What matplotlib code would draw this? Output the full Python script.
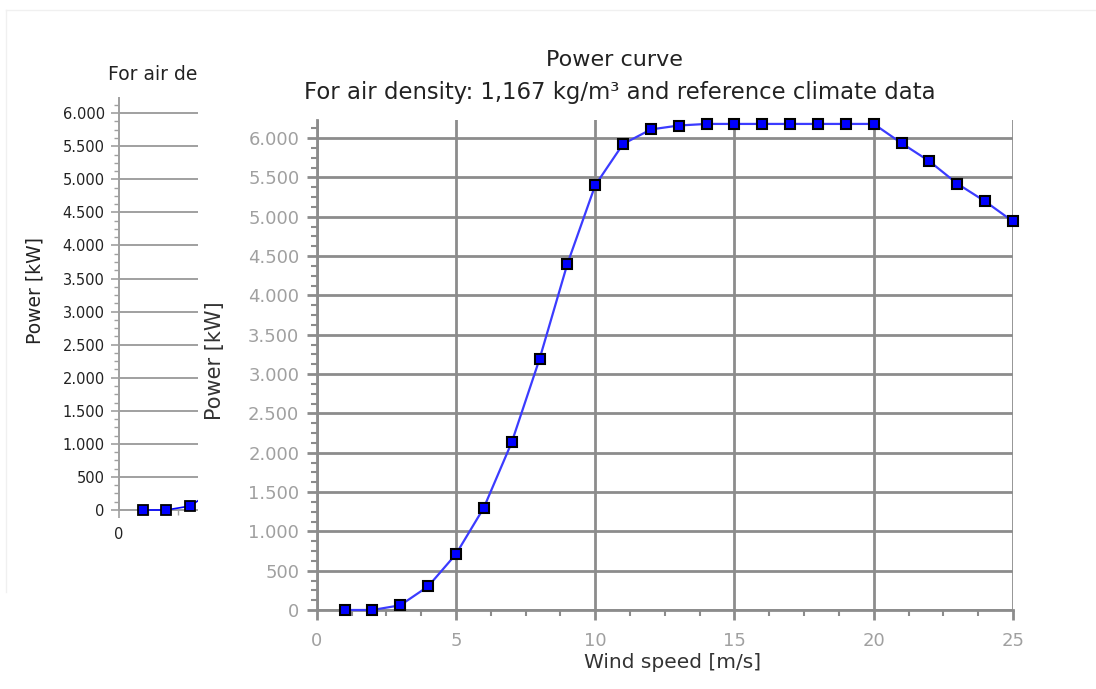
import matplotlib
matplotlib.use('Agg')
import matplotlib.pyplot as plt
from matplotlib.patches import Rectangle
from matplotlib.lines import Line2D
from matplotlib.ticker import FixedLocator, MultipleLocator, FuncFormatter

# power curve, 1 m/s steps
wind = list(range(1, 26))
power = [0, 0, 60, 300, 710, 1300, 2130, 3190, 4400, 5400, 5925, 6110, 6160,
         6180, 6180, 6180, 6180, 6180, 6180, 6180, 5935, 5705, 5420, 5195, 4940]
y_ticks = list(range(0, 6001, 500))
x_ticks = [0, 5, 10, 15, 20, 25]

title = 'Power curve'
subtitle = 'For air density: 1,167 kg/m³ and reference climate data'

W, H = 1096, 689


def px_box(x0, y0, x1, y1):
    # pixel box (origin top-left) -> figure fraction [left, bottom, w, h]
    return [x0 / W, 1 - y1 / H, (x1 - x0) / W, (y1 - y0) / H]


def fx(x):
    return x / W


def fy(y):
    return 1 - y / H


thousands = FuncFormatter(lambda v, pos: f'{int(round(v)):,}'.replace(',', '.'))

fig = plt.figure(figsize=(W / 100, H / 100), dpi=100)
fig.patch.set_facecolor('white')

# faint window frame of the chart behind
fig.add_artist(Line2D([fx(6), fx(6)], [fy(10), fy(592)], color='#f0f0f0', lw=1))
fig.add_artist(Line2D([fx(6), 1], [fy(10), fy(10)], color='#f0f0f0', lw=1))

# ---- chart in the back (mostly hidden) ----
grid_b = '#a0a0a0'
back = fig.add_axes(px_box(118.7, 98, 118.7 + 25 * 23.8, 510))
back.set_xlim(0, 25)
back.set_ylim(0, 6230)
back.plot(wind, power, color='blue', lw=1.2, marker='s', ms=6.5,
          mfc='blue', mec='black', mew=1.3, clip_on=False, zorder=3)
back.yaxis.set_major_locator(FixedLocator(y_ticks))
back.yaxis.set_major_formatter(thousands)
back.yaxis.set_minor_locator(MultipleLocator(125))
back.xaxis.set_major_locator(FixedLocator(x_ticks))
back.xaxis.set_minor_locator(MultipleLocator(1.25))
back.grid(axis='y', color=grid_b, lw=1.4)
for s in ['top', 'right']:
    back.spines[s].set_visible(False)
for s in ['left', 'bottom']:
    back.spines[s].set_color(grid_b)
    back.spines[s].set_linewidth(1.4)
back.tick_params(which='major', length=6, width=1.2, color=grid_b,
                 labelsize=10.5, labelcolor='#222222', pad=4)
back.tick_params(which='minor', length=3.5, width=1.0, color=grid_b)
back.tick_params(axis='x', which='major', pad=6)
# only the start of its subtitle shows past the front sheet
fig.text(fx(108), fy(75), 'For air density:', ha='left', va='center',
         fontsize=13.5, color='#222222', zorder=0.5)
fig.text(fx(35), fy(290), 'Power [kW]', ha='center', va='center',
         rotation=90, fontsize=13.5, color='#222222', zorder=0.5)

# white sheet of the front chart
fig.patches.append(Rectangle((fx(198), 0), 1 - fx(198), 1,
                             transform=fig.transFigure, facecolor='white',
                             edgecolor='none', zorder=1))

# ---- chart in front ----
grid_f = '#8c8c8c'
ax = fig.add_axes(px_box(316.7, 120, 1013, 610))
ax.set_zorder(2)
ax.set_xlim(0, 25)
ax.set_ylim(0, 6230)
ax.plot(wind, power, color='#3b3bff', lw=1.6, marker='s', ms=6.5,
        mfc='#0000ff', mec='black', mew=1.5, clip_on=False, zorder=3)
ax.yaxis.set_major_locator(FixedLocator(y_ticks))
ax.yaxis.set_major_formatter(thousands)
ax.yaxis.set_minor_locator(MultipleLocator(125))
ax.xaxis.set_major_locator(FixedLocator(x_ticks))
ax.xaxis.set_minor_locator(MultipleLocator(1.25))
ax.grid(which='major', color=grid_f, lw=2)
for s in ['top', 'right']:
    ax.spines[s].set_visible(False)
for s in ['left', 'bottom']:
    ax.spines[s].set_color(grid_f)
    ax.spines[s].set_linewidth(2)
ax.tick_params(which='major', length=7, width=2, color=grid_f,
               labelsize=13, labelcolor='#a0a0a0')
ax.tick_params(which='minor', length=4.5, width=1.5, color=grid_f)
ax.tick_params(axis='y', which='major', pad=5.5)
ax.tick_params(axis='x', which='major', pad=9)

fig.text(fx(614.5), fy(60), title, ha='center', va='center', fontsize=16,
         color='#222222')
fig.text(fx(619.7), fy(92), subtitle, ha='center', va='center', fontsize=16.4,
         color='#222222')
fig.text(fx(673), fy(663), 'Wind speed [m/s]', ha='center', va='center',
         fontsize=14.5, color='#333333')
fig.text(fx(215), fy(361), 'Power [kW]', ha='center', va='center',
         rotation=90, fontsize=15, color='#333333')

fig.savefig('out.png', dpi=100)
